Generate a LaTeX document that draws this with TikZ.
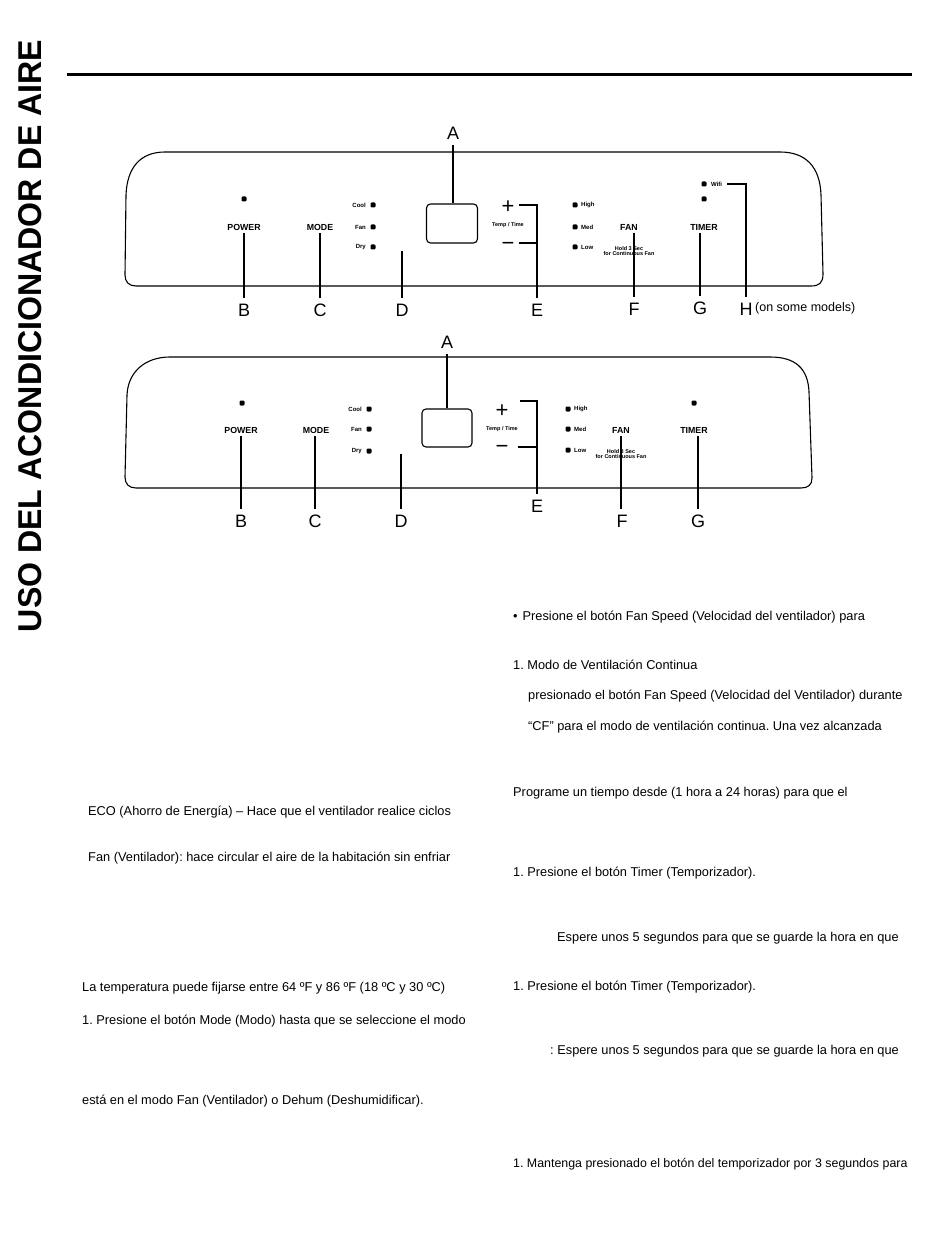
\documentclass[tikz,border=0pt]{standalone}
\usepackage{fontspec}
\setmainfont{Liberation Sans}
\begin{document}
\frenchspacing
\begin{tikzpicture}[x=1pt,y=-1pt,
  conn/.style={line width=1.8pt},
  outline/.style={line width=1.1pt, line join=round},
  led/.style={fill=black, minimum size=5pt, inner sep=0pt, rounded corners=1.2pt},
  btn/.style={font=\bfseries\fontsize{8.8}{9}\selectfont, inner sep=2.5pt},
  lbl/.style={font=\fontsize{18}{18}\selectfont, inner sep=0pt, outer sep=6pt},
  tinyt/.style={font=\bfseries\fontsize{6}{7}\selectfont, inner sep=0pt},
  holdt/.style={font=\bfseries\fontsize{5.5}{7}\selectfont, inner sep=0pt, align=center},
  sym/.style={font=\fontsize{22}{22}\selectfont, inner sep=0pt},
  disp/.style={draw, line width=1.1pt, rounded corners=4pt, inner sep=0pt},
  body/.style={font=\fontsize{12.8}{14}\selectfont, anchor=west, inner sep=0pt},
  note/.style={font=\fontsize{12.5}{14}\selectfont, anchor=west, inner sep=0pt}
]
\fill[white] (0,0) rectangle (950,1241);
\useasboundingbox (0,0) rectangle (950,1241);

% title and rule
\node[rotate=90, font=\bfseries\fontsize{33}{33}\selectfont, inner sep=0pt] (title) at (30,336)
  {\scalebox{0.973}[1]{USO DEL ACONDICIONADOR DE AIRE}};
\draw[line width=3pt] (67,75) -- (912,75);

% ================= top panel =================
\draw[outline] (165,152) -- (780,152)
  .. controls (805,152) and (820,166) .. (821,195)
  -- (823,274) .. controls (823,283) and (819,286) .. (811,286)
  -- (136,286) .. controls (129,286) and (125,282) .. (125,275)
  -- (126,195) .. controls (127,168) and (140,152) .. (165,152);

\node[led] (tpwled) at (244,199) {};
\node[btn] (tpw) at (244,227) {POWER};
\node[lbl] (tB) at (244,310) {B};
\draw[conn] (tpw) -- (tB);

\node[btn] (tmd) at (320,227) {MODE};
\node[lbl] (tC) at (320,310) {C};
\draw[conn] (tmd) -- (tC);

\node[tinyt, anchor=east] (tcool) at (366,205) {Cool};
\node[tinyt, anchor=east] (tfanm) at (366,227) {Fan};
\node[tinyt, anchor=east] (tdry) at (366,247) {Dry};
\node[led] (tl1) at (373,205) {};
\node[led] (tl2) at (373,227) {};
\node[led] (tl3) at (373,247) {};

\coordinate (tDtop) at (402,251);
\node[lbl] (tD) at (402,310) {D};
\draw[conn] (tDtop) -- (tD);

\node[disp, minimum width=51pt, minimum height=39pt] (tdisp) at (452,223.5) {};
\node[lbl] (tA) at (453,133) {A};
\draw[conn] (tA) -- (tA |- tdisp.north);

\node[sym] (tplus) at (508,207) {+};
\node[sym] (tminus) at (508,246) {−};
\node[tinyt, font=\bfseries\fontsize{5.5}{6}\selectfont] (ttemp) at (508,225) {Temp / Time};
\node[lbl] (tE) at (537,310) {E};
\coordinate (tEp) at (519,205);
\coordinate (tEm) at (519,243);
\draw[conn, line join=miter] (tEp) -- (tEp -| tE) -- (tE);
\draw[conn] (tEm) -- (tEm -| tE);

\node[led] (th1) at (575,205) {};
\node[led] (th2) at (575,227) {};
\node[led] (th3) at (575,247) {};
\node[tinyt, anchor=west] (thigh) at (581,205) {High};
\node[tinyt, anchor=west] (tmed) at (581,227) {Med};
\node[tinyt, anchor=west] (tlow) at (581,247) {Low};

\node[btn] (tfan) at (629,227) {FAN};
\node[holdt] (thold) at (629,251) {Hold 3 Sec\\[-1.5pt]for Continuous Fan};
\node[lbl] (tF) at (634,309) {F};
\draw[conn] (tfan.south -| tF) -- (tF);

\node[led] (ttimled) at (704,199) {};
\node[btn] (ttim) at (704,227) {TIMER};
\node[lbl] (tG) at (700,308) {G};
\draw[conn] (ttim.south -| tG) -- (tG);

\node[led] (twled) at (704,184) {};
\node[tinyt, anchor=west] (twifi) at (711,184) {Wifi};
\node[lbl] (tH) at (746,309) {H};
\draw[conn, line join=miter] ([xshift=5pt]twifi.east) -- (twifi.east -| tH) -- (tH);
\node[note] (tsome) at (755,308) {(on some models)};

% ================= bottom panel =================
\draw[outline] (170,357) -- (770,357)
  .. controls (795,357) and (808,368) .. (809,392)
  -- (812,478) .. controls (812,485) and (808,488) .. (801,488)
  -- (136,488) .. controls (129,488) and (125,484) .. (125,477)
  -- (127,395) .. controls (128,372) and (145,357) .. (170,357);

\node[led] (upwled) at (242,403) {};
\node[btn] (upw) at (241,430) {POWER};
\node[lbl] (uB) at (241,521) {B};
\draw[conn] (upw) -- (uB);

\node[btn] (umd) at (316,430) {MODE};
\node[lbl] (uC) at (315,521) {C};
\draw[conn] (umd.south -| uC) -- (uC);

\node[tinyt, anchor=east] (ucool) at (362,409) {Cool};
\node[tinyt, anchor=east] (ufanm) at (362,429) {Fan};
\node[tinyt, anchor=east] (udry) at (362,451) {Dry};
\node[led] (ul1) at (369,409) {};
\node[led] (ul2) at (369,429) {};
\node[led] (ul3) at (369,451) {};

\coordinate (uDtop) at (401,454);
\node[lbl] (uD) at (401,521) {D};
\draw[conn] (uDtop) -- (uD);

\node[disp, minimum width=50pt, minimum height=38pt] (udisp) at (447,428) {};
\node[lbl] (uA) at (447,342) {A};
\draw[conn] (uA) -- (uA |- udisp.north);

\node[sym] (uplus) at (502,411) {+};
\node[sym] (uminus) at (502,449) {−};
\node[tinyt, font=\bfseries\fontsize{5.5}{6}\selectfont] (utemp) at (502,429) {Temp / Time};
\node[lbl] (uE) at (537,506) {E};
\coordinate (uEt) at (520,401);
\coordinate (uEm) at (518,447);
\draw[conn, line join=miter] (uEt) -- (uEt -| uE) -- (uE);
\draw[conn] (uEm) -- (uEm -| uE);

\node[led] (uh1) at (568,409) {};
\node[led] (uh2) at (568,429) {};
\node[led] (uh3) at (568,450) {};
\node[tinyt, anchor=west] (uhigh) at (574,409) {High};
\node[tinyt, anchor=west] (umed) at (574,429) {Med};
\node[tinyt, anchor=west] (ulow) at (574,450) {Low};

\node[btn] (ufan) at (621,430) {FAN};
\node[holdt] (uhold) at (621,454) {Hold 3 Sec\\[-1.5pt]for Continuous Fan};
\node[lbl] (uF) at (622,521) {F};
\draw[conn] (ufan.south) -- (ufan.south |- uF.north);

\node[led] (utimled) at (694,403) {};
\node[btn] (utim) at (694,430) {TIMER};
\node[lbl] (uG) at (698,521) {G};
\draw[conn] (utim.south -| uG) -- (uG);

% ================= text =================
\node[body] (l1) at (88,812) {ECO (Ahorro de Energía) – Hace que el ventilador realice ciclos};
\node[body] (l2) at (88,858) {Fan (Ventilador): hace circular el aire de la habitación sin enfriar};
\node[body] (l3) at (82,988) {La temperatura puede fijarse entre 64 ºF y 86 ºF (18 ºC y 30 ºC)};
\node[body] (l4) at (82,1021) {1. Presione el botón Mode (Modo) hasta que se seleccione el modo};
\node[body] (l5) at (82,1101) {está en el modo Fan (Ventilador) o Dehum (Deshumidificar).};

\node[body] (r1) at (513,617) {•\hspace{5pt}Presione el botón Fan Speed (Velocidad del ventilador) para};
\node[body] (r2) at (513,665) {1. Modo de Ventilación Continua};
\node[body] (r3) at (528,696) {presionado el botón Fan Speed (Velocidad del Ventilador) durante};
\node[body] (r4) at (528,727) {“CF” para el modo de ventilación continua. Una vez alcanzada};
\node[body] (r5) at (513,793) {Programe un tiempo desde (1 hora a 24 horas) para que el};
\node[body] (r6) at (513,873) {1. Presione el botón Timer (Temporizador).};
\node[body] (r7) at (557,938) {Espere unos 5 segundos para que se guarde la hora en que};
\node[body] (r8) at (513,987) {1. Presione el botón Timer (Temporizador).};
\node[body] (r9) at (550,1051) {: Espere unos 5 segundos para que se guarde la hora en que};
\node[body, font=\fontsize{12.4}{14}\selectfont] (r10) at (513,1164) {1. Mantenga presionado el botón del temporizador por 3 segundos para};
\end{tikzpicture}
\end{document}
